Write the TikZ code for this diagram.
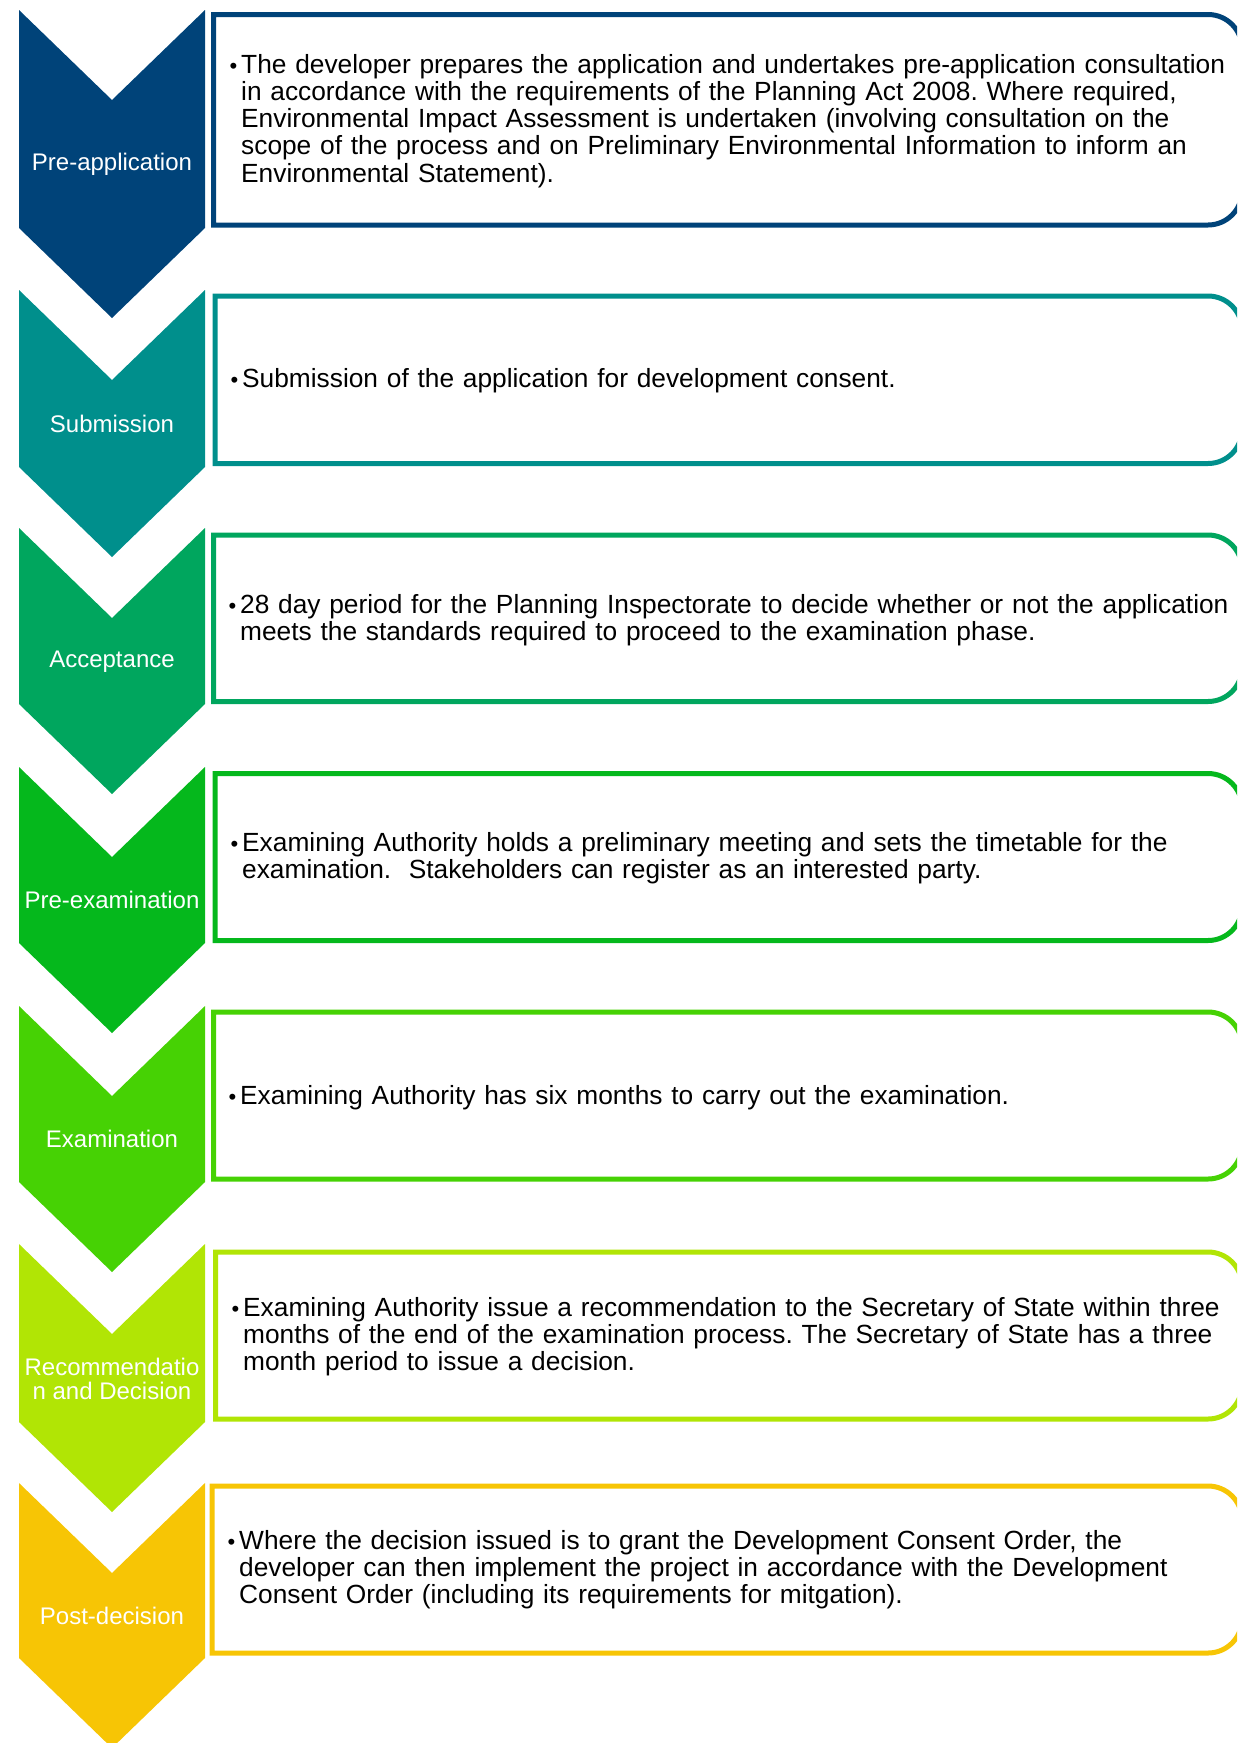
\documentclass[tikz,border=0pt]{standalone}
\usepackage{fontspec}
\setmainfont{Liberation Sans}
\frenchspacing
\definecolor{c1}{HTML}{004379}
\definecolor{c2}{HTML}{008F8C}
\definecolor{c3}{HTML}{00A65E}
\definecolor{c4}{HTML}{05B81C}
\definecolor{c5}{HTML}{46D204}
\definecolor{c6}{HTML}{B1E505}
\definecolor{c7}{HTML}{F7C505}
\tikzset{
  label/.style={text=white, align=center, inner sep=0pt, font=\fontsize{24}{24.5}\selectfont},
  body/.style={text=black, anchor=base west, inner sep=0pt, text width=1010pt, align=left,
    font=\fontsize{26.3}{27.3}\selectfont},
}
\newcommand{\bul}{\llap{\raisebox{0pt}{\fontsize{22}{22}\selectfont •}\hspace{4pt}}}
% chevron: #1 colour, #2 top, #3 side bottom
\newcommand{\chev}[3]{\fill[#1] (19,-#2) -- (112,-#2-90) -- (205,-#2) -- (205,-#3) -- (112,-#3-90) -- (19,-#3) -- cycle;}
% box: #1 colour, #2 left, #3 top, #4 bottom
\newcommand{\tbox}[4]{\draw[#1, line width=5pt, fill=white] (#2,-#3) -- (1208,-#3) arc[start angle=90, end angle=0, radius=34] -- (1242,-#4+34) arc[start angle=0, end angle=-90, radius=34] -- (#2,-#4) -- cycle;}
\begin{document}
\begin{tikzpicture}[x=1pt,y=1pt]
\useasboundingbox (0,0) rectangle (1237,-1743);
\begin{scope}
\clip (0,0) rectangle (1237,-1743);
\chev{c1}{10}{228}
\chev{c2}{290}{467}
\chev{c3}{528}{704}
\chev{c4}{767}{943}
\chev{c5}{1006}{1182}
\chev{c6}{1244}{1422}
\chev{c7}{1483}{1658}
\tbox{c1}{213.5}{14.5}{225}
\tbox{c2}{215}{296}{463.5}
\tbox{c3}{213.5}{535}{701.5}
\tbox{c4}{215}{773.5}{940.5}
\tbox{c5}{213.5}{1012}{1179}
\tbox{c6}{215.5}{1252}{1419}
\tbox{c7}{212}{1486}{1653}
\end{scope}
\node[label] (l1) at (112,-164) {Pre-application};
\node[label] (l2) at (112,-424) {Submission};
\node[label] (l3) at (112,-662) {Acceptance};
\node[label] (l4) at (112,-900) {Pre-examination};
\node[label] (l5) at (112,-1139) {Examination};
\node[label] (l6) at (112,-1379) {Recommendatio\\n and Decision};
\node[label] (l7) at (112,-1616) {Post-decision};
\node[body] (t1) at (241,-73) {\bul The developer prepares the application and undertakes pre-application consultation\\in accordance with the requirements of the Planning Act 2008. Where required,\\Environmental Impact Assessment is undertaken (involving consultation on the\\scope of the process and on Preliminary Environmental Information to inform an\\Environmental Statement).};
\node[body] (t2) at (242,-387) {\bul Submission of the application for development consent.};
\node[body] (t3) at (240,-613) {\bul 28 day period for the Planning Inspectorate to decide whether or not the application\\meets the standards required to proceed to the examination phase.};
\node[body] (t4) at (242,-851) {\bul Examining Authority holds a preliminary meeting and sets the timetable for the\\examination.\ \ Stakeholders can register as an interested party.};
\node[body] (t5) at (240,-1104) {\bul Examining Authority has six months to carry out the examination.};
\node[body] (t6) at (243,-1316) {\bul Examining Authority issue a recommendation to the Secretary of State within three\\months of the end of the examination process. The Secretary of State has a three\\month period to issue a decision.};
\node[body] (t7) at (239,-1549) {\bul Where the decision issued is to grant the Development Consent Order, the\\developer can then implement the project in accordance with the Development\\Consent Order (including its requirements for mitgation).};
\end{tikzpicture}
\end{document}
